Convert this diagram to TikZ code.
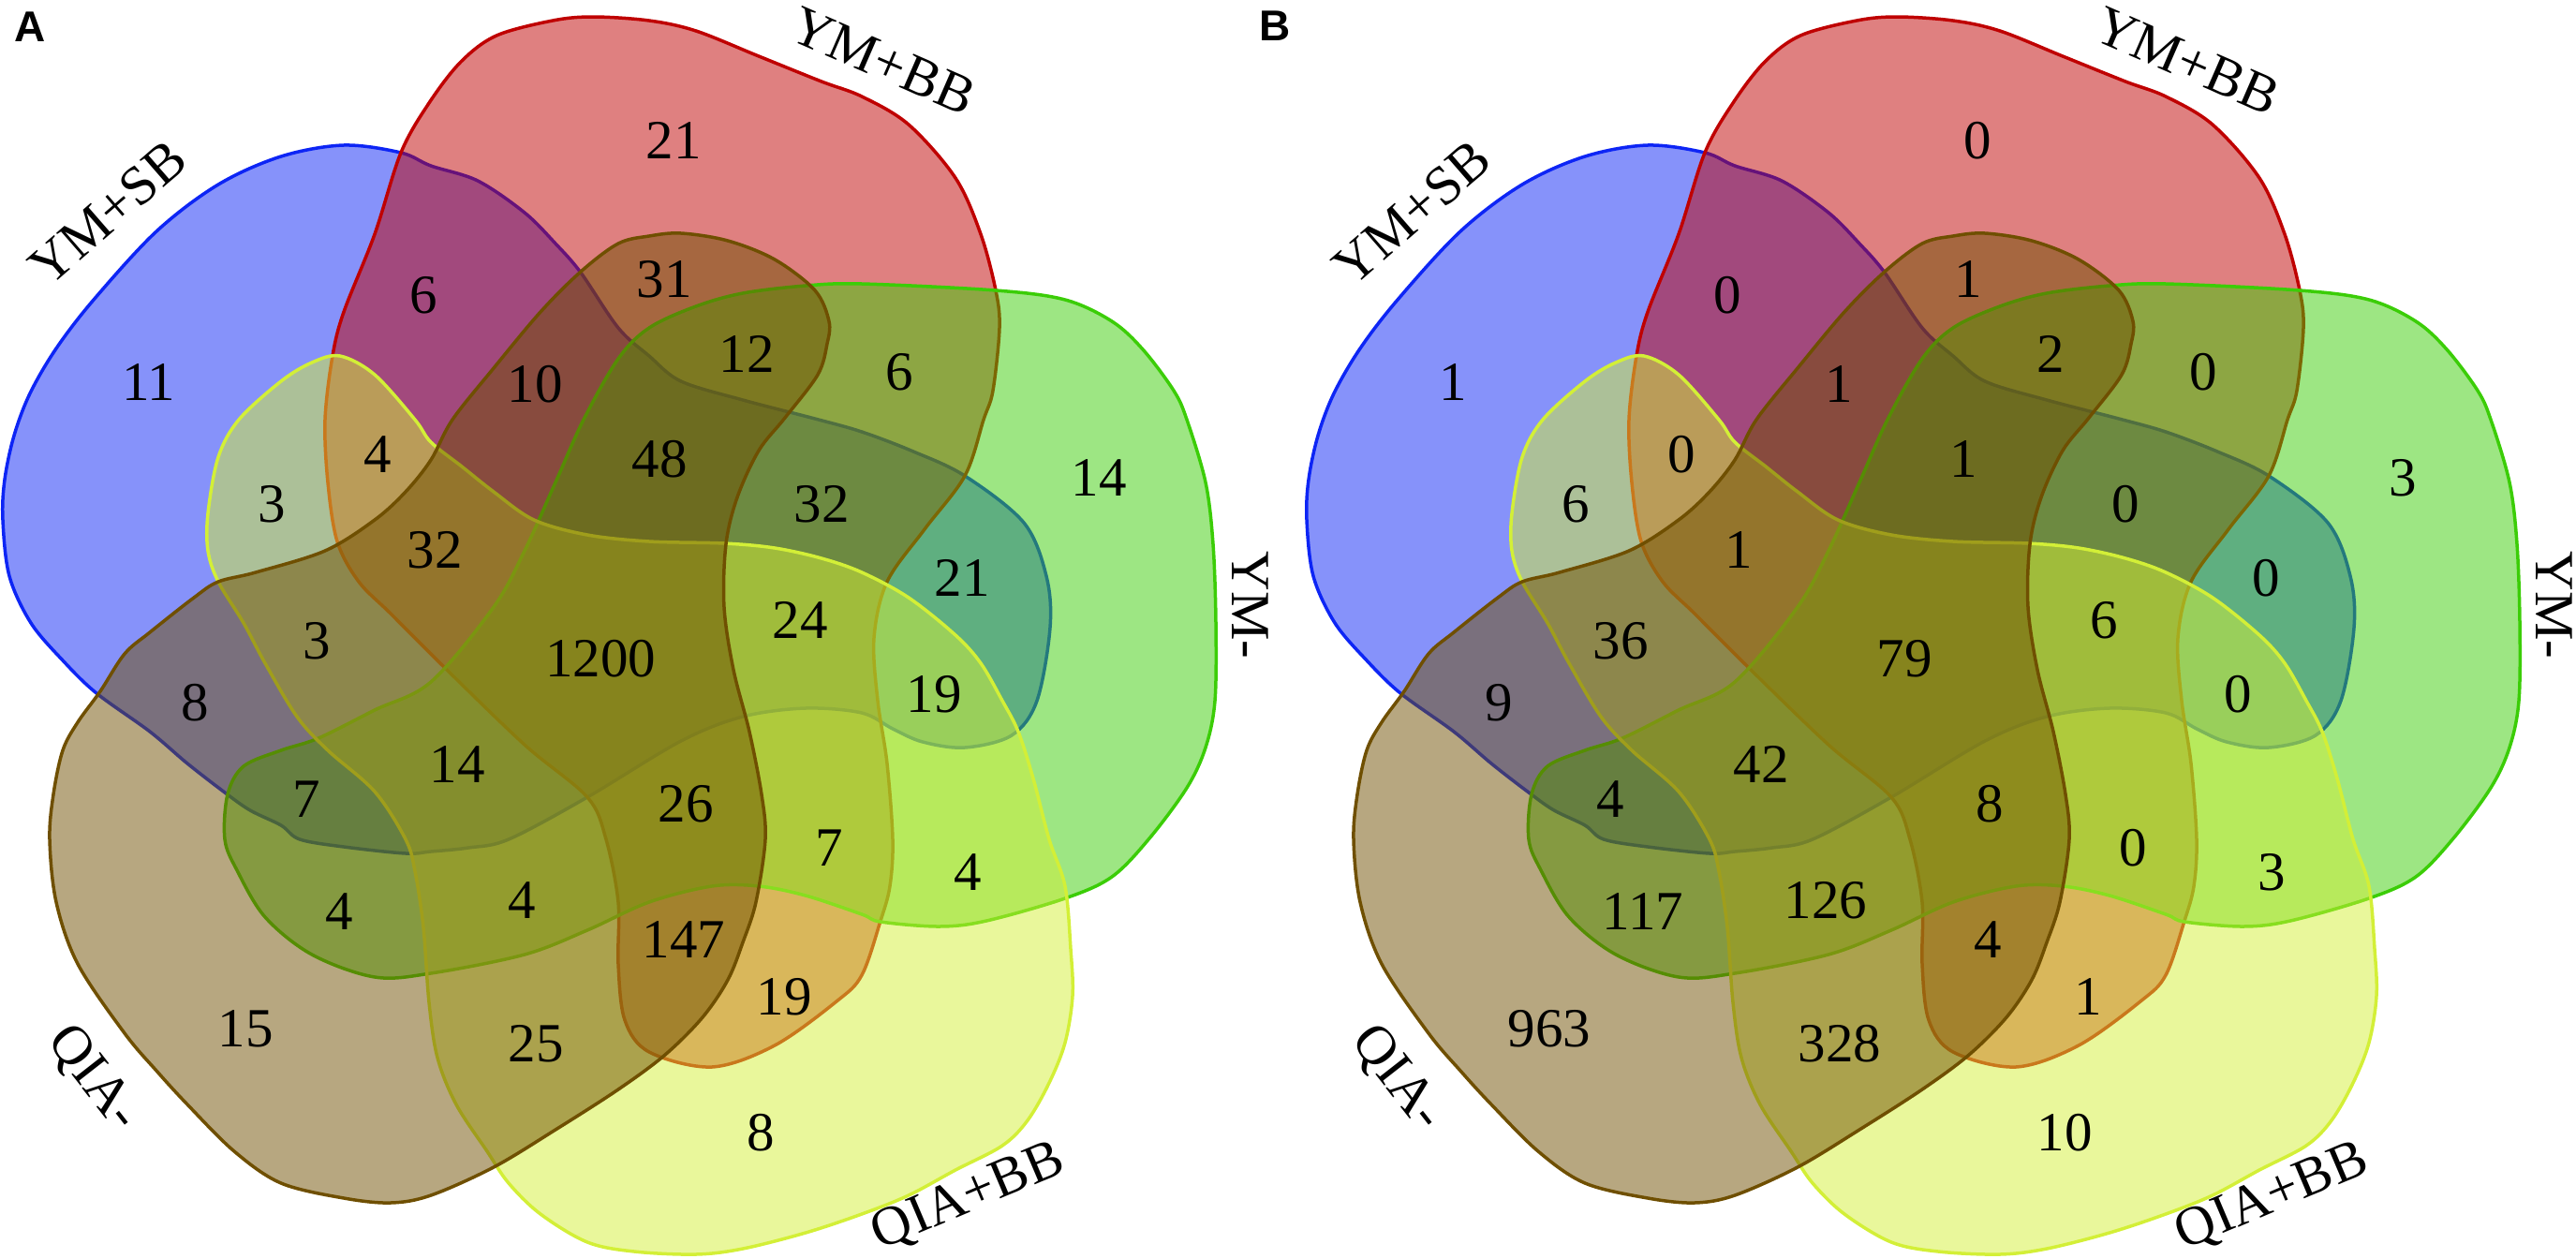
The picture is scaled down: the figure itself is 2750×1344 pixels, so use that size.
\documentclass[tikz,border=0pt]{standalone}
\usepackage{fontspec}
\setmainfont{Liberation Serif}
\newfontfamily\panelfont{Liberation Sans}
\definecolor{cBlue}{RGB}{13,37,245}
\definecolor{cRed}{RGB}{191,1,1}
\definecolor{cGreen}{RGB}{59,205,7}
\definecolor{cYellow}{RGB}{211,239,55}
\definecolor{cBrown}{RGB}{111,79,1}
\begin{document}
\begin{tikzpicture}[x=1pt,y=-1pt,
  setshape/.style={line width=3.5pt, fill opacity=0.5, draw opacity=1},
  num/.style={inner sep=0pt, font=\fontsize{59}{60}\selectfont},
  lab/.style={inner sep=0pt, text depth=0pt, font=\fontsize{59}{60}\selectfont},
  panel/.style={inner sep=0pt, font=\fontsize{46}{46}\selectfont\panelfont\bfseries}]
\useasboundingbox (0,0) rectangle (2750,1344);
\foreach \dx in {0,1392}{
 \begin{scope}[xshift=\dx pt]
  % YM+SB (blue)
  \filldraw[setshape, draw=cBlue, fill=cBlue] plot[smooth cycle, tension=0.55] coordinates {
   (367,155) (428,163) (460,177) (510,193) (560,227) (593,260) (620,291) (660,350) (693,380) (727,407) (793,427) (870,447) (920,461) (975,482) (1030,508) (1093,558) (1117,615) (1121,670) (1107,748) (1080,785) (1030,798) (985,792) (953,778) (920,761) (860,756) (793,765) (727,791) (627,851) (543,896) (500,905) (460,909) (433,911) (367,904) (320,896) (300,881) (267,865) (240,846) (200,815) (160,781) (103,740) (67,705) (33,665) (10,615) (3,555) (5,512) (15,465) (32,420) (60,372) (100,320) (167,247) (233,197) (300,167)};
  % YM+BB (red)
  \filldraw[setshape, draw=cRed, fill=cRed] plot[smooth cycle, tension=0.55] coordinates {
   (633,18) (693,22) (743,33) (810,60) (877,87) (920,103) (970,133) (1020,190) (1047,250) (1063,310) (1067,350) (1060,417) (1050,448) (1030,508) (987,565) (947,621) (933,681) (937,748) (947,815) (953,896) (950,946) (940,983) (920,1041) (893,1069) (827,1116) (760,1139) (693,1123) (667,1089) (660,1029) (660,963) (647,896) (627,851) (560,795) (473,711) (417,655) (383,621) (360,578) (350,515) (347,448) (355,380) (367,333) (400,250) (428,163) (458,110) (492,66) (530,38) (590,22)};
  % YM- (green)
  \filldraw[setshape, draw=cGreen, fill=cGreen] plot[smooth cycle, tension=0.55] coordinates {
   (920,303) (1063,310) (1137,320) (1187,343) (1220,373) (1253,417) (1267,448) (1287,515) (1295,581) (1298,665) (1297,748) (1287,798) (1267,841) (1227,895) (1187,936) (1137,959) (1053,983) (1003,989) (940,984) (920,976) (860,956) (810,946) (760,946) (693,963) (627,993) (560,1019) (460,1039) (400,1043) (333,1019) (283,979) (253,929) (240,896) (243,848) (260,818) (300,801) (340,788) (400,758) (460,728) (527,648) (560,588) (593,515) (623,448) (660,383) (693,350) (743,327) (793,313) (860,305)};
  % QIA+BB (yellow)
  \filldraw[setshape, draw=cYellow, fill=cYellow] plot[smooth cycle, tension=0.55] coordinates {
   (363,380) (400,400) (443,448) (460,472) (493,498) (527,525) (570,555) (627,571) (693,578) (773,580) (827,585) (877,596) (920,611) (970,638) (1020,678) (1047,708) (1070,748) (1087,781) (1103,831) (1120,896) (1137,946) (1143,1013) (1145,1063) (1137,1113) (1120,1156) (1097,1196) (1070,1223) (1020,1249) (970,1276) (920,1296) (860,1316) (793,1333) (743,1339) (677,1336) (627,1326) (577,1296) (543,1263) (520,1229) (487,1179) (467,1129) (458,1070) (452,990) (443,930) (433,896) (400,845) (350,801) (317,765) (283,708) (260,665) (233,621) (222,588) (222,548) (233,488) (255,448) (300,407) (333,387)};
  % QIA- (brown)
  \filldraw[setshape, draw=cBrown, fill=cBrown] plot[smooth cycle, tension=0.55] coordinates {
   (727,249) (777,257) (827,277) (870,310) (885,343) (883,367) (873,400) (838,446) (810,481) (787,531) (775,581) (773,648) (783,715) (800,781) (813,848) (817,896) (807,963) (793,1006) (777,1046) (750,1086) (710,1126) (660,1163) (593,1206) (527,1246) (460,1276) (417,1284) (367,1279) (300,1263) (250,1229) (200,1179) (167,1143) (133,1103) (83,1029) (60,963) (53,896) (57,848) (67,801) (83,771) (107,738) (133,698) (160,675) (207,638) (233,621) (273,611) (347,588) (400,555) (433,525) (460,491) (483,448) (527,393) (577,333) (620,290) (660,260) (693,252)};
 \end{scope}
}
% panel letters
\node[panel] (pA) at (32,29) {A};
\node[panel] (pB) at (1361,28) {B};
% set labels, panel A
\node[lab, rotate=41] (lA1) at (115,227) {YM+SB};
\node[lab, rotate=-23.5] (lA2) at (943,65) {YM+BB};
\node[lab, rotate=-90] (lA3) at (1335,646) {YM-};
\node[lab, rotate=23] (lA4) at (1032,1274) {QIA+BB};
\node[lab, rotate=-52] (lA5) at (103,1149) {QIA-};
% set labels, panel B
\node[lab, rotate=41] (lB1) at (1507,227) {YM+SB};
\node[lab, rotate=-23.5] (lB2) at (2335,65) {YM+BB};
\node[lab, rotate=-90] (lB3) at (2727,646) {YM-};
\node[lab, rotate=23] (lB4) at (2424,1274) {QIA+BB};
\node[lab, rotate=-52] (lB5) at (1495,1149) {QIA-};
% counts, panel A
\node[num] (a1) at (719,150) {21};
\node[num] (a2) at (159,408) {11};
\node[num] (a3) at (452,315) {6};
\node[num] (a4) at (709,298) {31};
\node[num] (a5) at (571,410) {10};
\node[num] (a6) at (797,378) {12};
\node[num] (a7) at (960,397) {6};
\node[num] (a8) at (1173,510) {14};
\node[num] (a9) at (877,538) {32};
\node[num] (a10) at (704,490) {48};
\node[num] (a11) at (403,485) {4};
\node[num] (a12) at (290,538) {3};
\node[num] (a13) at (464,587) {32};
\node[num] (a14) at (338,684) {3};
\node[num] (a15) at (208,750) {8};
\node[num] (a16) at (327,853) {7};
\node[num] (a17) at (641,703) {1200};
\node[num] (a18) at (854,662) {24};
\node[num] (a19) at (1027,617) {21};
\node[num] (a20) at (997,741) {19};
\node[num] (a21) at (488,816) {14};
\node[num] (a22) at (732,858) {26};
\node[num] (a23) at (885,905) {7};
\node[num] (a24) at (1033,931) {4};
\node[num] (a25) at (362,973) {4};
\node[num] (a26) at (557,961) {4};
\node[num] (a27) at (730,1003) {147};
\node[num] (a28) at (837,1064) {19};
\node[num] (a29) at (262,1098) {15};
\node[num] (a30) at (572,1114) {25};
\node[num] (a31) at (812,1209) {8};
% counts, panel B
\node[num] (b1) at (2111,150) {0};
\node[num] (b2) at (1551,408) {1};
\node[num] (b3) at (1844,315) {0};
\node[num] (b4) at (2101,298) {1};
\node[num] (b5) at (1963,410) {1};
\node[num] (b6) at (2189,378) {2};
\node[num] (b7) at (2352,397) {0};
\node[num] (b8) at (2565,510) {3};
\node[num] (b9) at (2269,538) {0};
\node[num] (b10) at (2096,490) {1};
\node[num] (b11) at (1795,485) {0};
\node[num] (b12) at (1682,538) {6};
\node[num] (b13) at (1856,587) {1};
\node[num] (b14) at (1730,684) {36};
\node[num] (b15) at (1600,750) {9};
\node[num] (b16) at (1719,853) {4};
\node[num] (b17) at (2033,703) {79};
\node[num] (b18) at (2246,662) {6};
\node[num] (b19) at (2419,617) {0};
\node[num] (b20) at (2389,741) {0};
\node[num] (b21) at (1880,816) {42};
\node[num] (b22) at (2124,858) {8};
\node[num] (b23) at (2277,905) {0};
\node[num] (b24) at (2425,931) {3};
\node[num] (b25) at (1754,973) {117};
\node[num] (b26) at (1949,961) {126};
\node[num] (b27) at (2122,1003) {4};
\node[num] (b28) at (2229,1064) {1};
\node[num] (b29) at (1654,1098) {963};
\node[num] (b30) at (1964,1114) {328};
\node[num] (b31) at (2204,1209) {10};
\end{tikzpicture}
\end{document}
